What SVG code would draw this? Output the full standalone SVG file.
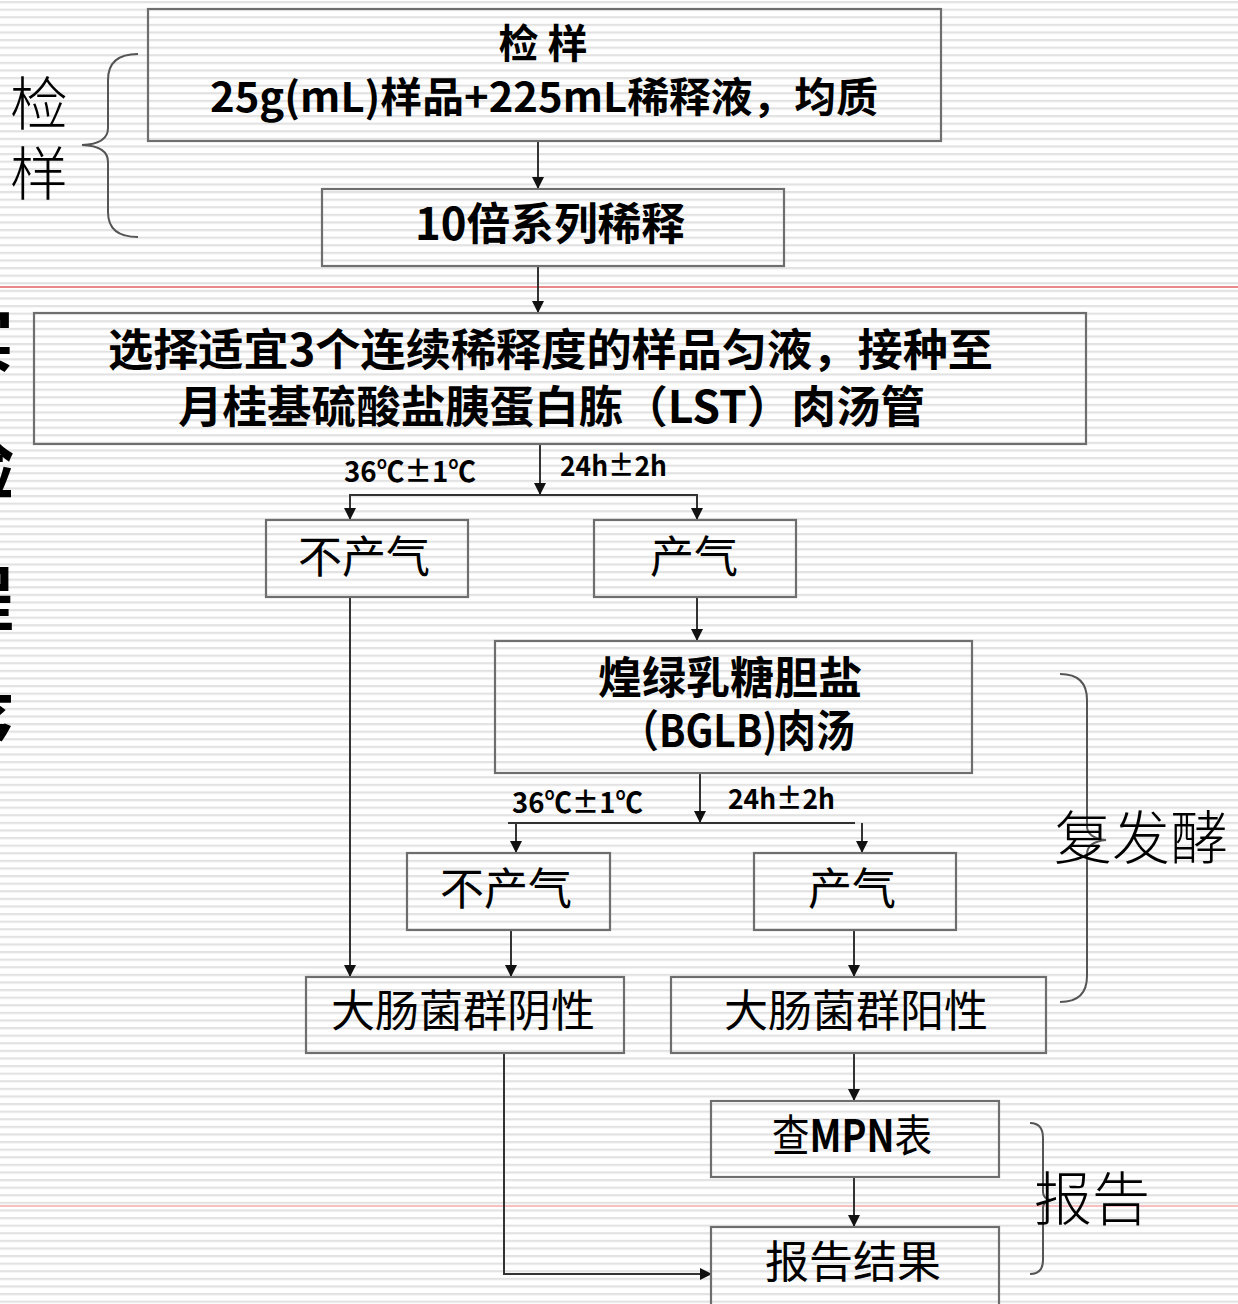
<svg xmlns="http://www.w3.org/2000/svg" width="1238" height="1304" viewBox="0 0 1238 1304">
<defs>
<pattern id="stripes" patternUnits="userSpaceOnUse" x="0" y="1" width="20" height="7.6">
<rect x="0" y="0" width="20" height="7.6" fill="#ffffff"/>
<rect x="0" y="0" width="20" height="2.2" fill="#e2e2e2"/>
</pattern>
<marker id="arr" markerUnits="userSpaceOnUse" markerWidth="12" markerHeight="12" viewBox="0 0 10 10" refX="10" refY="5" orient="auto">
<path d="M0,0 L10,5 L0,10 z" fill="#111"/>
</marker>
<style>
.box{fill:none;stroke:#6e6e6e;stroke-width:2.2}
.con{fill:none;stroke:#333;stroke-width:2}
.brace{fill:none;stroke:#555;stroke-width:2}
.b{font-family:"Noto Sans CJK SC","Liberation Sans",sans-serif;font-weight:bold;font-size:44px;fill:#000}
.r{font-family:"Noto Sans CJK SC","Liberation Sans",sans-serif;font-weight:normal;font-size:44px;fill:#000}
.lab{font-family:"Noto Sans CJK SC","Liberation Sans",sans-serif;font-weight:bold;font-size:28px;fill:#000}
.side{font-family:"Noto Sans CJK SC",serif;font-weight:300;font-size:58px;fill:#000}
</style>
</defs>
<rect x="0" y="0" width="1238" height="1304" fill="url(#stripes)"/>
<line x1="0" y1="287" x2="1238" y2="287" stroke="#e06060" stroke-width="1.6"/>
<line x1="0" y1="1206" x2="1238" y2="1206" stroke="#f08080" stroke-width="1"/>

<g id="clipped-left">
<text class="b" style="font-size:70px" x="14" y="366" text-anchor="end">实</text>
<text class="b" style="font-size:70px" x="14" y="494" text-anchor="end">验</text>
<text class="b" style="font-size:70px" x="14" y="625" text-anchor="end">程</text>
<text class="b" style="font-size:70px" x="14" y="748" text-anchor="end">序</text>
</g>

<g id="side-labels">
<g id="brace-jianyang">
<path class="brace" d="M138,54 Q108,54 108,80 L108,128 Q108,144 82,145 Q108,146 108,162 L108,212 Q108,237 138,237"/>
<text class="side" x="10" y="125">检</text>
<text class="side" x="10" y="195">样</text>
</g>
<g id="brace-fufajiao">
<path class="brace" d="M1060,674 Q1087,674 1087,700 L1087,826 Q1087,838 1106,840 Q1087,842 1087,854 L1087,976 Q1087,1002 1060,1002"/>
<text class="side" x="1054" y="859">复发酵</text>
</g>
<g id="brace-baogao">
<path class="brace" d="M1030,1123 Q1043,1123 1043,1138 L1043,1192 Q1043,1198 1050,1200 Q1043,1202 1043,1208 L1043,1260 Q1043,1274 1030,1274"/>
<text class="side" x="1034" y="1220">报告</text>
</g>
</g>

<g id="connectors">
<line class="con" x1="538" y1="141" x2="538" y2="189" marker-end="url(#arr)"/>
<line class="con" x1="538" y1="266" x2="538" y2="313" marker-end="url(#arr)"/>
<line class="con" x1="540" y1="444" x2="540" y2="495" marker-end="url(#arr)"/>
<line class="con" x1="350" y1="495" x2="698" y2="495"/>
<line class="con" x1="350" y1="494" x2="350" y2="520" marker-end="url(#arr)"/>
<line class="con" x1="697" y1="494" x2="697" y2="520" marker-end="url(#arr)"/>
<line class="con" x1="350" y1="597" x2="350" y2="977" marker-end="url(#arr)"/>
<line class="con" x1="697" y1="597" x2="697" y2="641" marker-end="url(#arr)"/>
<line class="con" x1="700" y1="773" x2="700" y2="823" marker-end="url(#arr)"/>
<line class="con" x1="508" y1="823" x2="855" y2="823"/>
<line class="con" x1="516" y1="823" x2="516" y2="853" marker-end="url(#arr)"/>
<line class="con" x1="862" y1="823" x2="862" y2="853" marker-end="url(#arr)"/>
<line class="con" x1="511" y1="930" x2="511" y2="977" marker-end="url(#arr)"/>
<line class="con" x1="854" y1="930" x2="854" y2="977" marker-end="url(#arr)"/>
<line class="con" x1="854" y1="1053" x2="854" y2="1101" marker-end="url(#arr)"/>
<line class="con" x1="854" y1="1177" x2="854" y2="1227" marker-end="url(#arr)"/>
<polyline class="con" points="504,1053 504,1274 712,1274" marker-end="url(#arr)"/>
<text class="lab" x="344" y="482" textLength="132" lengthAdjust="spacingAndGlyphs">36℃±1℃</text>
<text class="lab" x="560" y="476" textLength="107" lengthAdjust="spacingAndGlyphs">24h±2h</text>
<text class="lab" x="512" y="813" textLength="131" lengthAdjust="spacingAndGlyphs">36℃±1℃</text>
<text class="lab" x="728" y="809" textLength="107" lengthAdjust="spacingAndGlyphs">24h±2h</text>
</g>

<g id="n-sample">
<rect class="box" x="148" y="9" width="793" height="132"/>
<text class="b" style="font-size:40px" x="543" y="58" text-anchor="middle">检 样</text>
<text class="b" style="font-size:41px" x="210" y="112" textLength="668" lengthAdjust="spacingAndGlyphs">25g(mL)样品+225mL稀释液，均质</text>
</g>
<g id="n-dilute">
<rect class="box" x="322" y="189" width="462" height="77"/>
<text class="b" x="415" y="240" textLength="270" lengthAdjust="spacingAndGlyphs">10倍系列稀释</text>
</g>
<g id="n-lst">
<rect class="box" x="34" y="313" width="1052" height="131"/>
<text class="b" x="108" y="366" textLength="885" lengthAdjust="spacingAndGlyphs">选择适宜3个连续稀释度的样品匀液，接种至</text>
<text class="b" x="178" y="423" textLength="747" lengthAdjust="spacingAndGlyphs">月桂基硫酸盐胰蛋白胨（LST）肉汤管</text>
</g>
<g id="n-nogas1">
<rect class="box" x="266" y="520" width="202" height="77"/>
<text class="r" x="364" y="573" text-anchor="middle">不产气</text>
</g>
<g id="n-gas1">
<rect class="box" x="594" y="520" width="202" height="77"/>
<text class="r" x="694" y="573" text-anchor="middle">产气</text>
</g>
<g id="n-bglb">
<rect class="box" x="495" y="641" width="477" height="132"/>
<text class="b" x="730" y="694" text-anchor="middle">煌绿乳糖胆盐</text>
<text class="b" x="620" y="747" textLength="235" lengthAdjust="spacingAndGlyphs">（BGLB)肉汤</text>
</g>
<g id="n-nogas2">
<rect class="box" x="407" y="853" width="203" height="77"/>
<text class="r" x="506" y="905" text-anchor="middle">不产气</text>
</g>
<g id="n-gas2">
<rect class="box" x="754" y="853" width="202" height="77"/>
<text class="r" x="852" y="905" text-anchor="middle">产气</text>
</g>
<g id="n-negative">
<rect class="box" x="306" y="977" width="318" height="76"/>
<text class="r" x="463" y="1027" text-anchor="middle">大肠菌群阴性</text>
</g>
<g id="n-positive">
<rect class="box" x="671" y="977" width="375" height="76"/>
<text class="r" x="856" y="1027" text-anchor="middle">大肠菌群阳性</text>
</g>
<g id="n-mpn">
<rect class="box" x="711" y="1101" width="288" height="76"/>
<text class="r" x="772" y="1152" textLength="160" lengthAdjust="spacingAndGlyphs">查<tspan font-weight="bold">MPN</tspan>表</text>
</g>
<g id="n-report">
<rect class="box" x="711" y="1227" width="288" height="80"/>
<text class="r" x="853" y="1278" text-anchor="middle">报告结果</text>
</g>
</svg>
